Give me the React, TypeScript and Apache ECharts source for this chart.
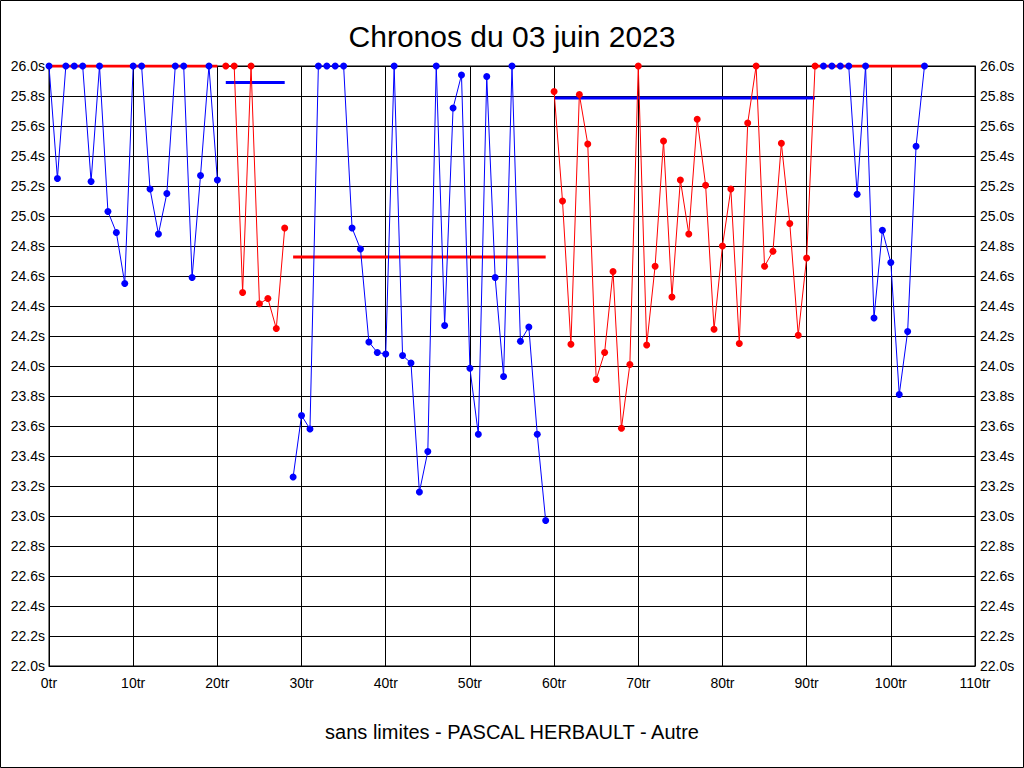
import React, { useEffect, useRef } from "react";
import * as echarts from "echarts";

const TITLE = "Chronos du 03 juin 2023";
const SUBTITLE = "sans limites - PASCAL HERBAULT - Autre";

// Lap times (seconds, clamped to 26.0 at the top of the scale), laps 0..104
const lapTimes: number[] = [
  26.0, 25.25, 26.0, 26.0, 26.0, 25.23, 26.0, 25.03, 24.89, 24.55,
  26.0, 26.0, 25.18, 24.88, 25.15, 26.0, 26.0, 24.59, 25.27, 26.0,
  25.24, 26.0, 26.0, 24.49, 26.0, 24.415, 24.45, 24.25, 24.92, 23.26,
  23.67, 23.58, 26.0, 26.0, 26.0, 26.0, 24.92, 24.78, 24.16, 24.09,
  24.08, 26.0, 24.07, 24.02, 23.16, 23.43, 26.0, 24.27, 25.72, 25.94,
  23.985, 23.545, 25.93, 24.59, 23.93, 26.0, 24.165, 24.26, 23.545, 22.97,
  25.83, 25.1, 24.145, 25.81, 25.48, 23.91, 24.09, 24.63, 23.585, 24.01,
  26.0, 24.14, 24.665, 25.5, 24.46, 25.24, 24.88, 25.645, 25.205, 24.245,
  24.8, 25.18, 24.15, 25.62, 26.0, 24.665, 24.765, 25.485, 24.95, 24.205,
  24.72, 26.0, 26.0, 26.0, 26.0, 26.0, 25.145, 26.0, 24.32, 24.905,
  24.69, 23.81, 24.23, 25.465, 26.0,
];

// Stints: first lap, last lap, colour
const stintStart: number[] = [0, 21, 29, 60, 92];
const stintEnd: number[] = [20, 28, 59, 91, 104];
const stintColor: string[] = ["#0000ff", "#ff0000", "#0000ff", "#ff0000", "#0000ff"];

// Average bars: value, from lap, to lap, colour
const avgValue: number[] = [26.0, 25.89, 24.727, 25.787, 26.0];
const avgFrom: number[] = [0, 21, 29, 60, 91];
const avgTo: number[] = [20, 28, 59, 91, 104];
const avgColor: string[] = ["#ff0000", "#0000ff", "#ff0000", "#0000ff", "#ff0000"];

const FONT = "Liberation Sans, Arial, sans-serif";

export default function App() {
  const ref = useRef<HTMLDivElement>(null);

  useEffect(() => {
    document.body.style.margin = "0";
    if (!ref.current) return;
    const chart = echarts.init(ref.current, undefined, { renderer: "svg" });

    const avgSeries = avgValue.map((v, i) => ({
      type: "line",
      name: "avg" + i,
      data: [
        [avgFrom[i], v],
        [avgTo[i], v],
      ],
      symbol: "none",
      lineStyle: { color: avgColor[i], width: 3 },
      z: 2,
      silent: true,
    }));

    const stintSeries = stintStart.map((s, i) => {
      const data: number[][] = [];
      for (let lap = s; lap <= stintEnd[i]; lap++) data.push([lap, lapTimes[lap]]);
      return {
        type: "line",
        name: "stint" + i,
        data,
        symbol: "circle",
        symbolSize: 7,
        showSymbol: true,
        itemStyle: { color: stintColor[i] },
        lineStyle: { color: stintColor[i], width: 1 },
        z: 3,
      };
    });

    const yLabel = {
      fontSize: 14,
      color: "#000",
      fontFamily: FONT,
      formatter: (v: number) => v.toFixed(1) + "s",
    };

    chart.setOption({
      animation: false,
      backgroundColor: "#fff",
      title: [
        {
          text: TITLE,
          left: "center",
          top: 16,
          textStyle: { fontSize: 30, fontWeight: "normal", color: "#000", fontFamily: FONT },
        },
        {
          text: SUBTITLE,
          left: "center",
          top: 717,
          textStyle: { fontSize: 20, fontWeight: "normal", color: "#000", fontFamily: FONT },
        },
      ],
      graphic: [
        {
          type: "rect",
          shape: { x: 0.5, y: 0.5, width: 1023, height: 767 },
          style: { fill: "none", stroke: "#000", lineWidth: 1 },
          silent: true,
        },
      ],
      grid: {
        left: 49,
        right: 49,
        top: 66,
        bottom: 102,
        show: true,
        borderColor: "#000",
        borderWidth: 1,
        backgroundColor: "transparent",
      },
      xAxis: {
        type: "value",
        min: 0,
        max: 110,
        interval: 10,
        axisLine: { show: true, lineStyle: { color: "#000" } },
        axisTick: { show: false },
        splitLine: { show: true, lineStyle: { color: "#000", width: 1 } },
        axisLabel: {
          fontSize: 14,
          color: "#000",
          fontFamily: FONT,
          margin: 10,
          formatter: (v: number) => v + "tr",
        },
      },
      yAxis: [
        {
          type: "value",
          min: 22,
          max: 26,
          interval: 0.2,
          position: "left",
          axisLine: { show: true, lineStyle: { color: "#000" } },
          axisTick: { show: false },
          splitLine: { show: true, lineStyle: { color: "#000", width: 1 } },
          axisLabel: { ...yLabel, margin: 4 },
        },
        {
          type: "value",
          min: 22,
          max: 26,
          interval: 0.2,
          position: "right",
          axisLine: { show: true, lineStyle: { color: "#000" } },
          axisTick: { show: false },
          splitLine: { show: false },
          axisLabel: { ...yLabel, margin: 5 },
        },
      ],
      series: [...avgSeries, ...stintSeries],
    });

    return () => chart.dispose();
  }, []);

  return <div ref={ref} style={{ width: 1024, height: 768 }} />;
}
